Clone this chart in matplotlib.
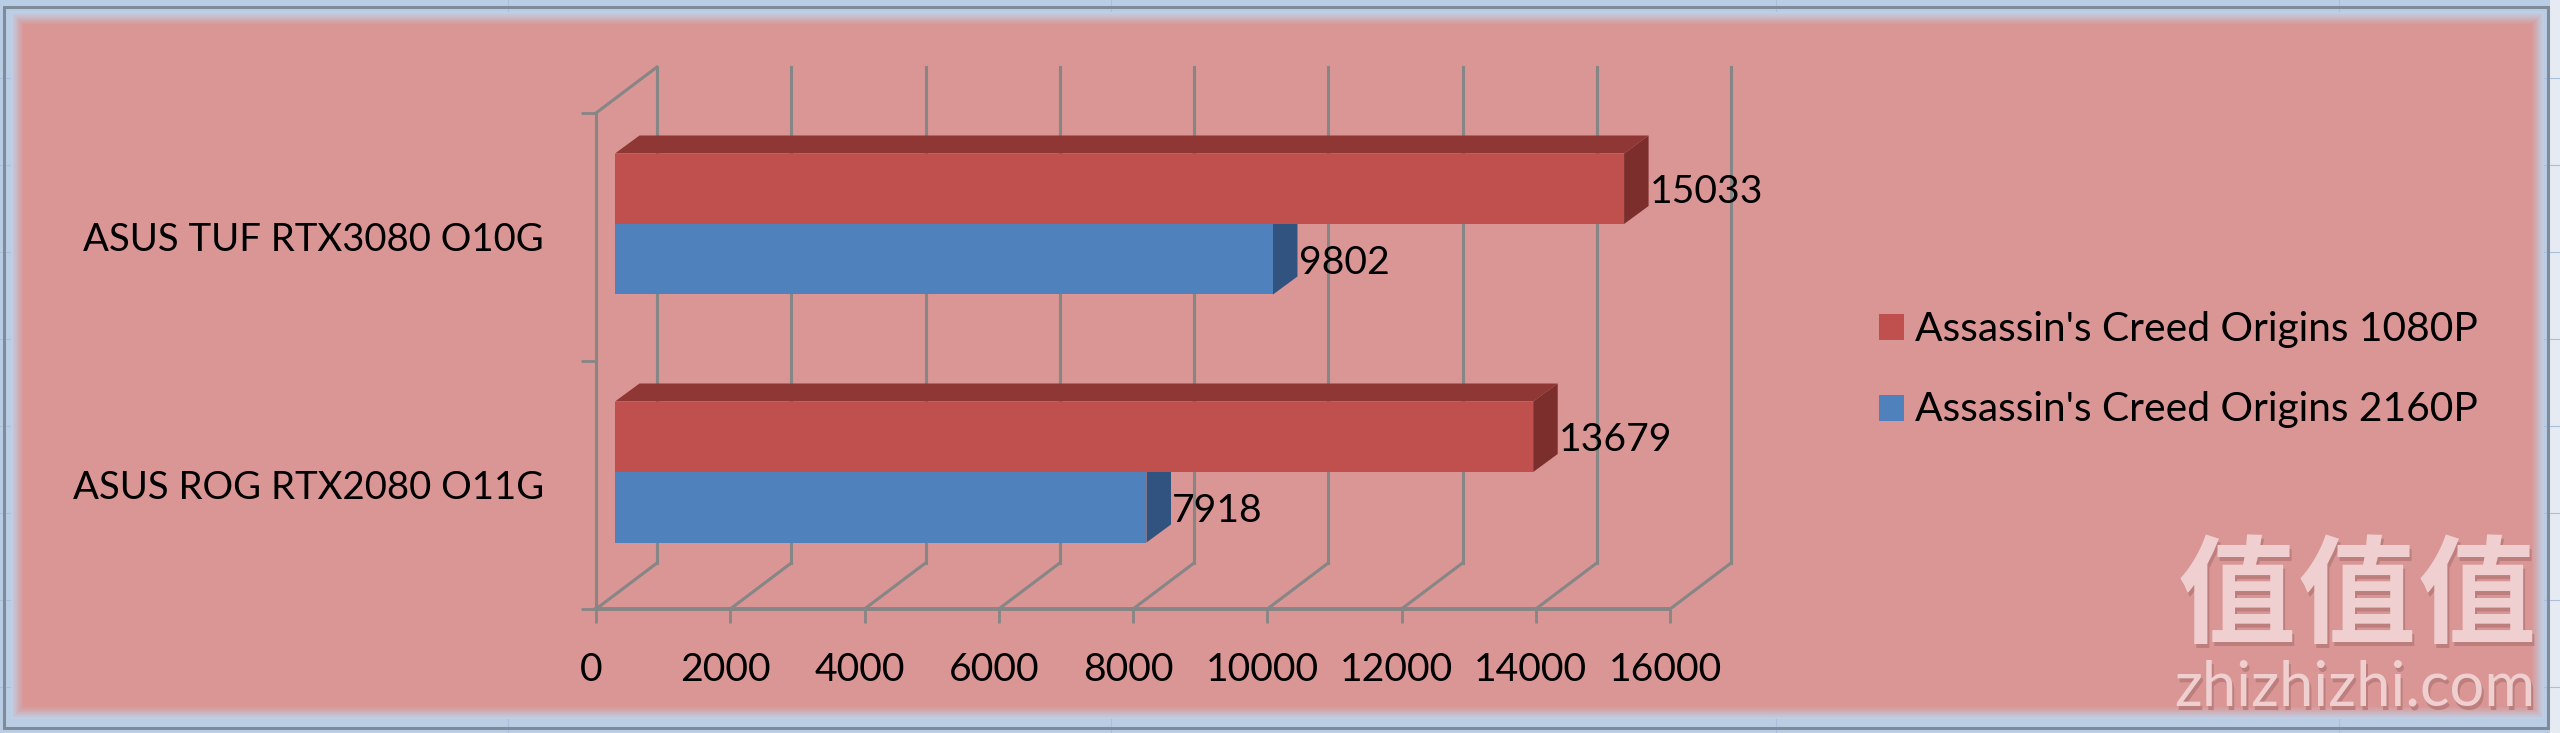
import matplotlib
matplotlib.use("Agg")
import matplotlib.pyplot as plt
from matplotlib.patches import Polygon, Rectangle
from matplotlib.transforms import Affine2D
import numpy as np

categories = ["ASUS ROG RTX2080 O11G", "ASUS TUF RTX3080 O10G"]
series_1080p = [13679, 15033]
series_2160p = [7918, 9802]
legend_labels = ["Assassin's Creed Origins 1080P", "Assassin's Creed Origins 2160P"]
x_ticks = [0, 2000, 4000, 6000, 8000, 10000, 12000, 14000, 16000]

W, H = 2560, 733
FONT = "Lato"
FS = 28.2
FS_LEG = 29.3
FS_CAT = 27.6
RED, RED_TOP, RED_SIDE = "#c0504d", "#8e3735", "#7c2e2c"
BLUE, BLUE_SIDE = "#4f81bd", "#30547f"
GREY = "#868686"
PINK = "#d99694"
MARGIN = "#b9cde5"

fig = plt.figure(figsize=(W / 100, H / 100), dpi=100, facecolor=MARGIN)

# window / chart-area backdrop, in pixel coordinates
bg = fig.add_axes([0, 0, 1, 1], zorder=0)
bg.set_xlim(0, W)
bg.set_ylim(H, 0)
bg.axis("off")
for yy in (78, 165, 252, 339, 426, 513, 600, 687):
    bg.plot([0, W], [yy, yy], color="#aabfdb", lw=0.8)
for xx in (508, 1111, 1776, 2339):
    bg.plot([xx, xx], [0, H], color="#aabfdb", lw=0.8)
bg.add_patch(Rectangle((2550, 0), 10, H, fc="#e6ebf3", ec="none", zorder=1.5))
bg.add_patch(Rectangle((4, 7), 2544, 721, fc="none", ec="#7f8b99", lw=2.2, zorder=2))
c0 = np.array(matplotlib.colors.to_rgb("#bfd0e6"))
c1 = np.array(matplotlib.colors.to_rgb(PINK))
steps = 12
for i in range(steps + 1):
    t = i / steps
    inset = 12 * t
    bg.add_patch(Rectangle((11 + inset, 12 + inset), 2533 - 2 * inset, 707 - 2 * inset,
                           fc=tuple(c0 + (c1 - c0) * t), ec="none", zorder=3))

# chart plane: the front plane of the 3-D box
L, R, T, B = 596, 1670, 113, 609
ax = fig.add_axes([L / W, 1 - B / H, (R - L) / W, (B - T) / H], zorder=2)
ax.patch.set_alpha(0)
ax.set_xlim(0, x_ticks[-1])
ax.set_ylim(0, len(categories))
xu = x_ticks[-1] / (R - L)  # data units per pixel
yu = len(categories) / (B - T)

for s in ("top", "right"):
    ax.spines[s].set_visible(False)
ax.spines["left"].set_color(GREY)
ax.spines["left"].set_linewidth(2.2)
ax.spines["bottom"].set_color(GREY)
ax.spines["bottom"].set_linewidth(2.8)

ax.set_xticks(x_ticks)
ax.set_xticklabels([str(v) for v in x_ticks], fontfamily=FONT, fontsize=FS)
ax.tick_params(axis="x", length=10, width=2.0, color=GREY, pad=21, labelcolor="black")
for lab in ax.get_xticklabels():
    lab.set_transform(lab.get_transform() + Affine2D().translate(-5, 0))
ypos = np.arange(len(categories)) + 0.5
ax.set_yticks(np.arange(len(categories) + 1))
ax.set_yticklabels([""] * (len(categories) + 1))
ax.tick_params(axis="y", which="major", length=11, width=2.0, color=GREY)
ax.set_yticks(ypos, minor=True)
ax.set_yticklabels(categories, minor=True, fontfamily=FONT, fontsize=FS_CAT, va="center")
ax.tick_params(axis="y", which="minor", length=0, pad=37.5)
for lab in ax.get_yticklabels(minor=True):
    lab.set_transform(lab.get_transform() + Affine2D().translate(0, -3))

# back wall and floor of the box
BACK_X, BACK_Y = 61 * xu, 46 * yu
WALL_TOP = len(categories)
for v in x_ticks:
    ax.plot([v, v + BACK_X], [0, BACK_Y], color=GREY, lw=2.2, zorder=1, clip_on=False)
    ax.plot([v + BACK_X, v + BACK_X], [BACK_Y, WALL_TOP + BACK_Y], color=GREY, lw=2.2,
            zorder=1, clip_on=False)
ax.plot([0, BACK_X], [WALL_TOP, WALL_TOP + BACK_Y], color=GREY, lw=2.2, zorder=1, clip_on=False)

# bars
IN_X, IN_Y = 19 * xu, 13 * yu
BH = 70.5 * yu
DX, DY = 24.5 * xu, 18 * yu


def box(value, y0, face, top, side, z):
    x0 = IN_X
    x1 = IN_X + value
    y1 = y0 + BH
    ax.add_patch(Polygon([(x1, y0), (x1 + DX, y0 + DY), (x1 + DX, y1 + DY), (x1, y1)],
                         fc=side, ec="none", zorder=z, clip_on=False))
    ax.add_patch(Polygon([(x0, y1), (x0 + DX, y1 + DY), (x1 + DX, y1 + DY), (x1, y1)],
                         fc=top, ec="none", zorder=z, clip_on=False))
    ax.barh(y0, value, height=BH, left=x0, align="edge", color=face, zorder=z + 0.1, clip_on=False)


for i, y in enumerate(ypos):
    box(series_2160p[i], y + IN_Y - BH, BLUE, BLUE_SIDE, BLUE_SIDE, 3)
for i, y in enumerate(ypos):
    box(series_1080p[i], y + IN_Y, RED, RED_TOP, RED_SIDE, 4)

for i, y in enumerate(ypos):
    c = y + IN_Y
    for val, yc in ((series_1080p[i], c + BH / 2), (series_2160p[i], c - BH / 2)):
        ax.annotate(str(val), (IN_X + val, yc), xytext=(18.5, -2.5), textcoords="offset points",
                    fontfamily=FONT, fontsize=FS, ha="left", va="center", color="black",
                    zorder=6, annotation_clip=False)

# legend
for lab, col, yy in zip(legend_labels, (RED, BLUE), (327, 408)):
    bg.add_patch(Rectangle((1879, yy - 13), 25, 26, fc=col, ec="none", zorder=5))
    bg.text(1915, yy + 2, lab, fontfamily=FONT, fontsize=FS_LEG, va="center", ha="left", color="black", zorder=5)

# watermark
CJK = ["Noto Sans CJK SC", "DejaVu Sans"]
for (ox, oy, col) in ((2, 4, "#bd7f7d"), (0, 0, "#efcfcf")):
    for k in range(3):
        bg.text(2237 + 120 * k + ox, 600 + oy, "值", family=CJK, fontsize=85, fontweight="bold",
                ha="center", va="center", color=col, zorder=6)
    bg.text(2355 + ox, 705 + oy, "zhizhizhi.com", fontfamily=FONT, fontsize=44.5,
            ha="center", va="baseline", color=col, zorder=6)

fig.savefig("out.png", dpi=100, facecolor=fig.get_facecolor())
